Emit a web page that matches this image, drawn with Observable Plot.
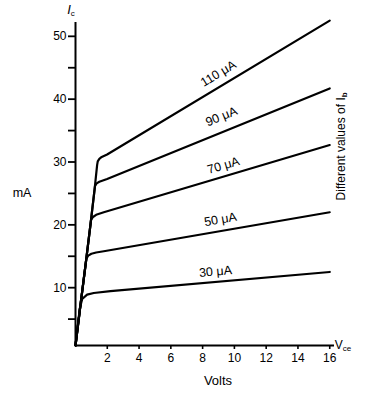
<!DOCTYPE html>
<html><head><meta charset="utf-8">
<script src="https://cdn.jsdelivr.net/npm/d3@7"></script>
<script src="https://cdn.jsdelivr.net/npm/@observablehq/plot@0.6"></script>
<style>
html,body{margin:0;padding:0;background:#fff;}
svg{display:block;}
</style></head><body><div id="chart"></div>
<script>
// Collector characteristic curves (Vce in volts, Ic in mA) for different base currents
const baseCurrents = ["30 μA", "50 μA", "70 μA", "90 μA", "110 μA"];
// common steep (saturation) rise shared by all curves
const envVce = [0, 0.3, 0.65, 0.95, 1.2, 1.36];
const envIc  = [0.8, 7.0, 14.0, 20.2, 25.6, 29.5];
// each curve after it leaves the common rise
const vce30 = [0.27, 0.42, 0.73, 1.15, 2.2, 16];
const ic30  = [6.7, 8.2, 8.9, 9.15, 9.45, 12.5];
const vce50 = [0.68, 0.8, 1.0, 1.3, 1.78, 16];
const ic50  = [14.6, 15.1, 15.4, 15.6, 15.8, 22.0];
const vce70 = [0.98, 1.1, 1.3, 1.78, 16];
const ic70  = [20.8, 21.25, 21.6, 22.0, 32.7];
const vce90 = [1.23, 1.33, 1.5, 1.99, 16];
const ic90  = [26.2, 26.6, 26.85, 27.3, 41.7];
const vce110 = [1.4, 1.5, 1.65, 1.99, 16];
const ic110  = [30.1, 30.5, 30.8, 31.2, 52.5];
const xTicks = [2, 4, 6, 8, 10, 12, 14, 16];
const yTicks = [5, 10, 15, 20, 25, 30, 35, 40, 45, 50];
const yTickLabels = ["", "10", "", "20", "", "30", "", "40", "", "50"];
const labelVce = [8.81, 9.12, 9.31, 9.18, 8.99];
const labelIc = [12.57, 20.85, 29.44, 37.24, 44.08];

const seriesX = [vce30, vce50, vce70, vce90, vce110];
const seriesY = [ic30, ic50, ic70, ic90, ic110];
const rows = [];
seriesX.forEach((xs, i) => {
  envVce.forEach((x, j) => { if (x < xs[0]) rows.push({series: baseCurrents[i], x, y: envIc[j]}); });
  xs.forEach((x, j) => rows.push({series: baseCurrents[i], x, y: seriesY[i][j]}));
});

const W = 370, H = 393, ML = 75, MR = 36, MT = 22, MB = 48;
const xDom = [0, 16.3], yDom = [0.8, 52.2];
const pxX = (W - ML - MR) / (xDom[1] - xDom[0]);
const pxY = (H - MT - MB) / (yDom[1] - yDom[0]);
// label rotation follows the slope of each curve's linear part
const labels = baseCurrents.map((t, i) => {
  const xs = seriesX[i], ys = seriesY[i], n = xs.length;
  const slope = (ys[n - 1] - ys[n - 2]) / (xs[n - 1] - xs[n - 2]);
  return {text: t, x: labelVce[i], y: labelIc[i], rotate: -Math.atan(slope * pxY / pxX) * 180 / Math.PI};
});

const font = "'Liberation Sans', Arial, Helvetica, sans-serif";
const plot = Plot.plot({
  width: W, height: H, marginLeft: ML, marginRight: MR, marginTop: MT, marginBottom: MB,
  x: {domain: xDom}, y: {domain: yDom},
  style: {fontFamily: font, fontSize: "12px", color: "#000", background: "#fff"},
  marks: [
    Plot.axisY({ticks: yTicks, tickSize: 7, tickPadding: 2, tickFormat: (d) => yTickLabels[yTicks.indexOf(d)], label: null, strokeWidth: 1.8, fontSize: 12}),
    Plot.axisX({ticks: xTicks, tickSize: 4, tickPadding: 4, label: null, strokeWidth: 1.6, fontSize: 12}),
    Plot.ruleX([0], {stroke: "#000", strokeWidth: 2}),
    Plot.ruleY([yDom[0]], {stroke: "#000", strokeWidth: 2}),
    Plot.line(rows, {x: "x", y: "y", z: "series", curve: "linear", stroke: "#000", strokeWidth: 2.2, strokeLinejoin: "round"}),
    Plot.text(labels, {x: "x", y: "y", text: "text", rotate: "rotate", fontSize: 12.5, fill: "#000"})
  ]
});
document.getElementById("chart").appendChild(plot);

const sx = plot.scale("x"), sy = plot.scale("y");
const svg = d3.select(plot);
const x0 = sx.apply(0), y0 = sy.apply(yDom[0]);
const xEnd = sx.apply(xDom[1]), yTop = sy.apply(yDom[1]);

// I_c at top of y axis
const ic = svg.append("text").attr("x", x0 - 4).attr("y", yTop - 8).attr("font-family", font).attr("font-size", 13).attr("fill", "#000");
ic.append("tspan").attr("font-style", "italic").text("I");
ic.append("tspan").attr("font-size", 8).attr("dy", 2).text("c");

// mA
svg.append("text").attr("x", 22).attr("y", sy.apply(24.3)).attr("text-anchor", "middle").attr("font-family", font).attr("font-size", 12.5).attr("fill", "#000").text("mA");

// V_ce at end of x axis
const vce = svg.append("text").attr("x", xEnd + 9).attr("y", y0 + 4).attr("font-family", font).attr("font-size", 12).attr("fill", "#000");
vce.append("tspan").text("V");
vce.append("tspan").attr("font-size", 8).attr("dy", 2).text("ce");

// Volts
svg.append("text").attr("x", sx.apply(9)).attr("y", y0 + 40).attr("text-anchor", "middle").attr("font-family", font).attr("font-size", 13).attr("fill", "#000").text("Volts");

// Different values of I_b (vertical)
const dv = svg.append("text").attr("transform", `translate(${xEnd + 11},${sy.apply(32.4)}) rotate(-90)`).attr("text-anchor", "middle").attr("font-family", font).attr("font-size", 12).attr("fill", "#000");
dv.append("tspan").text("Different values of I");
dv.append("tspan").attr("font-size", 8).attr("font-weight", "bold").attr("dy", 2).text("b");
</script>
</body></html>
